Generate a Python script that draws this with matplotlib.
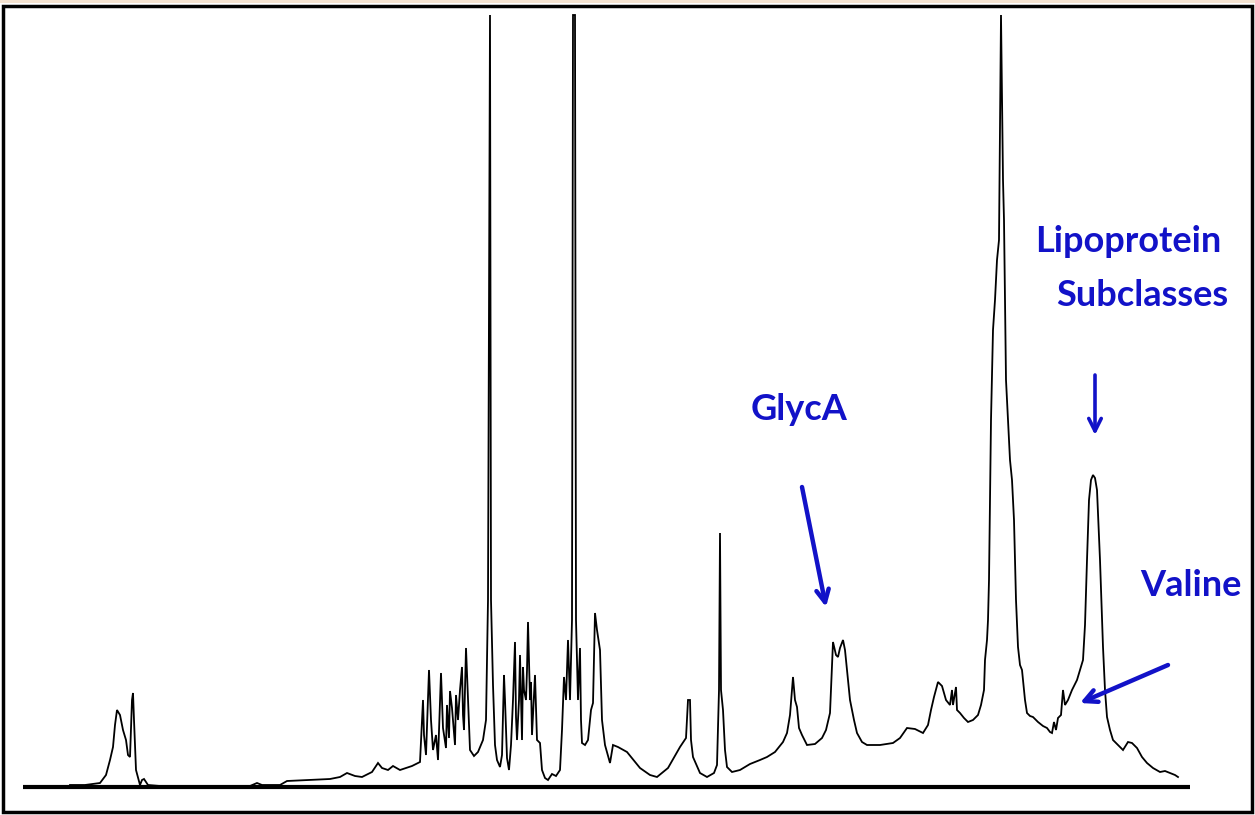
import matplotlib.pyplot as plt
from matplotlib.patches import Rectangle

# spectrum trace (position along the shift axis, height above baseline)
shift = [70, 85, 100, 106, 110, 113, 115, 117, 120, 123, 126, 128, 130, 132, 133, 134, 136, 140, 142, 144,
         148, 160, 250, 257, 262, 280, 287, 330, 340, 347, 355, 362, 372, 378, 382, 388, 393, 400, 412, 420,
         423, 424, 426, 429, 431, 433, 436, 438, 441, 443, 446, 447, 449, 450, 452, 455, 456, 458, 460, 462,
         463, 464, 466, 468, 470, 474, 478, 483, 486, 488, 490, 491, 493, 495, 497, 500, 502, 504, 505, 507,
         509, 511, 513, 515, 516, 517, 519, 520, 522, 523, 524, 526, 527, 528, 530, 531, 532, 535, 537, 540,
         542, 545, 548, 552, 556, 560, 562, 564, 566, 568, 570, 572, 573, 575, 576, 578, 580, 581, 582, 585,
         588, 591, 593, 595, 597, 600, 602, 605, 610, 613, 618, 627, 640, 650, 657, 668, 680, 686, 688, 690,
         691, 693, 700, 707, 714, 717, 719, 720, 721, 723, 725, 727, 732, 740, 750, 760, 767, 775, 783, 787,
         790, 793, 795, 797, 799, 802, 807, 815, 822, 826, 830, 833, 836, 838, 840, 843, 845, 847, 850, 854,
         857, 862, 867, 880, 893, 900, 907, 915, 923, 928, 931, 934, 938, 942, 946, 950, 952, 953, 956, 957,
         960, 964, 968, 973, 978, 981, 984, 985, 987, 988, 989, 990, 991, 993, 995, 997, 999, 1001, 1003, 1004,
         1005, 1006, 1008, 1010, 1012, 1014, 1016, 1018, 1020, 1022, 1025, 1027, 1030, 1033, 1038, 1043, 1047, 1050, 1052, 1054,
         1056, 1058, 1061, 1063, 1065, 1068, 1072, 1077, 1080, 1083, 1085, 1087, 1089, 1091, 1093, 1095, 1097, 1100, 1102, 1103,
         1105, 1107, 1110, 1113, 1118, 1123, 1128, 1132, 1137, 1142, 1147, 1153, 1160, 1165, 1170, 1175, 1178]
intensity = [2, 2, 4, 12, 27, 40, 62, 77, 72, 57, 47, 32, 30, 87, 94, 67, 17, 2, 7, 8,
             2, 1, 1, 4, 2, 2, 6, 8, 10, 14, 11, 10, 15, 24, 19, 17, 21, 17, 21, 25,
             87, 52, 32, 117, 67, 37, 52, 27, 114, 59, 39, 82, 49, 96, 79, 42, 92, 67, 97, 120,
             72, 57, 139, 87, 37, 31, 35, 47, 67, 187, 772, 187, 102, 42, 27, 20, 32, 112, 87, 29,
             17, 42, 87, 145, 70, 47, 87, 132, 47, 120, 97, 87, 117, 165, 87, 105, 52, 112, 47, 44,
             17, 9, 7, 13, 11, 17, 57, 110, 87, 147, 87, 167, 772, 772, 167, 87, 139, 67, 44, 42,
             47, 77, 84, 174, 157, 137, 67, 42, 24, 42, 40, 35, 19, 12, 10, 19, 40, 49, 87, 87,
             47, 30, 14, 10, 14, 22, 97, 254, 97, 77, 37, 20, 15, 17, 23, 27, 30, 35, 45, 54,
             72, 110, 87, 80, 59, 52, 42, 43, 49, 57, 74, 145, 132, 130, 139, 147, 137, 117, 87, 67,
             54, 45, 42, 42, 44, 49, 59, 58, 54, 62, 77, 90, 105, 101, 87, 82, 97, 82, 100, 77,
             74, 69, 65, 67, 72, 82, 97, 127, 147, 167, 207, 287, 367, 457, 487, 527, 547, 772, 607, 567,
             487, 407, 367, 327, 307, 267, 187, 140, 122, 117, 87, 74, 71, 70, 65, 61, 59, 55, 54, 65,
             57, 69, 72, 97, 82, 87, 97, 107, 117, 127, 162, 227, 287, 307, 312, 309, 297, 227, 167, 140,
             97, 70, 57, 47, 42, 37, 45, 44, 39, 30, 24, 19, 15, 16, 14, 12, 10]

labels = ["GlycA", "Lipoprotein", "Subclasses", "Valine"]

blue = "#1212c8"

fig = plt.figure(figsize=(12.55, 8.15), dpi=100)
ax = fig.add_axes([0, 0, 1, 1])
ax.set_xlim(0, 1255)
ax.set_ylim(-28, 787)
ax.axis("off")

ax.plot(shift, intensity, color="black", lw=1.3, solid_joinstyle="miter")
ax.plot([23, 1190], [0, 0], color="black", lw=3, solid_capstyle="butt")

font = dict(family=["Lato", "DejaVu Sans"], fontweight="bold", color=blue, fontsize=26)
ax.text(799, 377, labels[0], ha="center", va="center", **font)
ax.text(1128, 545, labels[1], ha="center", va="center", **font)
ax.text(1142, 492, labels[2], ha="center", va="center", **font)
ax.text(1191, 201, labels[3], ha="center", va="center", **font)

arrow = dict(arrowstyle="->,head_length=0.9,head_width=0.45", color=blue, lw=3.2,
             shrinkA=0, shrinkB=0)
ax.annotate("", xy=(826, 180), xytext=(802, 300), arrowprops=arrow)
ax.annotate("", xy=(1095, 352), xytext=(1095, 412),
            arrowprops=dict(arrow, lw=2.6))
ax.annotate("", xy=(1080, 84), xytext=(1168, 122), arrowprops=arrow)

# picture frame
fig.patches.append(Rectangle((0, 1 - 3 / 815), 1, 3 / 815, transform=fig.transFigure,
                             facecolor="#f3e2d0", edgecolor="none"))
fig.patches.append(Rectangle((3 / 1255, 3 / 815), 1 - 6 / 1255, 1 - 9 / 815,
                             transform=fig.transFigure, fill=False,
                             edgecolor="black", lw=2.5))

fig.savefig("out.png", dpi=100)
